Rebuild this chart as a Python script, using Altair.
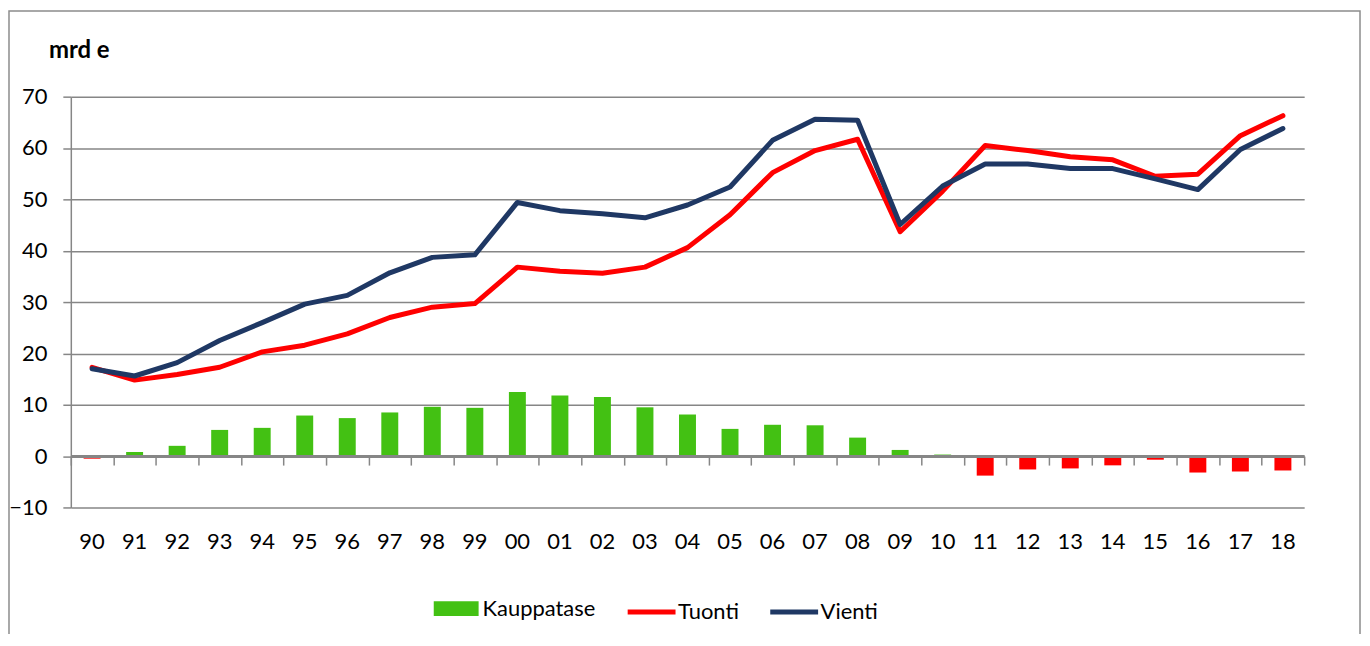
import altair as alt
import pandas as pd

years = ["90", "91", "92", "93", "94", "95", "96", "97", "98", "99",
         "00", "01", "02", "03", "04", "05", "06", "07", "08", "09",
         "10", "11", "12", "13", "14", "15", "16", "17", "18"]
kauppatase = [-0.5, 0.8, 2.0, 5.1, 5.5, 7.9, 7.4, 8.5, 9.6, 9.4,
              12.5, 11.8, 11.5, 9.5, 8.1, 5.3, 6.1, 6.0, 3.6, 1.2,
              0.3, -3.8, -2.6, -2.4, -1.8, -0.7, -3.2, -3.0, -2.8]
tuonti = [17.3, 14.8, 15.9, 17.3, 20.3, 21.6, 23.8, 27.0, 29.0, 29.7,
          36.8, 36.0, 35.6, 36.8, 40.6, 47.0, 55.2, 59.5, 61.7, 43.7,
          51.6, 60.5, 59.5, 58.3, 57.7, 54.5, 54.9, 62.4, 66.3]
vienti = [17.0, 15.6, 18.2, 22.5, 26.0, 29.6, 31.3, 35.7, 38.7, 39.2,
          49.4, 47.8, 47.2, 46.4, 48.9, 52.4, 61.5, 65.6, 65.4, 45.1,
          52.6, 56.9, 56.9, 56.0, 56.0, 54.0, 51.9, 59.7, 63.8]
unit_label = ["mrd e"]

df = pd.DataFrame({"year": years, "kauppatase": kauppatase,
                   "tuonti": tuonti, "vienti": vienti})
df["series"] = "Kauppatase"

FONT = "Lato"
GRID = "#868686"
W, H = 1237, 412

xscale = alt.Scale(paddingInner=0, paddingOuter=0)
yscale = alt.Scale(domain=[-10, 70], nice=False)

yaxis = alt.Axis(values=list(range(-10, 80, 10)), grid=True, gridColor=GRID,
                 gridWidth=1.5, domainColor=GRID, domainWidth=1.5,
                 tickColor=GRID, tickWidth=1.5, tickSize=8, labelFontSize=22,
                 labelFont=FONT, labelColor="black", labelPadding=16, title=None)

base = alt.Chart(df)

bars = base.mark_bar(size=17).encode(
    x=alt.X("year:N", sort=years, scale=xscale,
            axis=alt.Axis(orient="bottom", domain=False, ticks=False,
                          labelAngle=0, labelFontSize=22, labelFont=FONT,
                          labelColor="black", labelPadding=24, title=None,
                          grid=False)),
    y=alt.Y("kauppatase:Q", scale=yscale, axis=yaxis),
    fill=alt.condition(
        "datum.kauppatase < 0",
        alt.value("#FF0000"),
        alt.Fill("series:N",
                 scale=alt.Scale(domain=["Kauppatase"], range=["#43C113"]),
                 legend=alt.Legend(orient="none", legendX=364, legendY=491,
                                   direction="horizontal", title=None,
                                   symbolType="M-1,-0.333H1V0.333H-1Z",
                                   symbolSize=2025, symbolStrokeWidth=0,
                                   symbolOpacity=1,
                                   labelFontSize=22, labelFont=FONT,
                                   labelColor="black", labelOffset=4,
                                   padding=0)),
    ),
)

lines = base.transform_fold(
    ["tuonti", "vienti"], as_=["key", "val"]
).transform_calculate(
    name="datum.key == 'tuonti' ? 'Tuonti' : 'Vienti'"
).mark_line(strokeWidth=5, strokeJoin="round", strokeCap="round").encode(
    x=alt.X("year:N", sort=years, scale=xscale, axis=None),
    y=alt.Y("val:Q", scale=yscale),
    stroke=alt.Stroke("name:N",
                      scale=alt.Scale(domain=["Tuonti", "Vienti"],
                                      range=["#FF0000", "#1F3864"]),
                      legend=alt.Legend(orient="none", legendX=556, legendY=490,
                                        direction="horizontal", title=None,
                                        symbolType="stroke", symbolSize=2304,
                                        symbolStrokeWidth=5, columnPadding=20,
                                        labelFontSize=22, labelFont=FONT,
                                        labelColor="black", labelOffset=0,
                                        padding=0)),
)

zero_axis = base.mark_point(opacity=0).encode(
    x=alt.X("year:N", sort=years, scale=xscale,
            axis=alt.Axis(orient="bottom", offset=-51.5, labels=False,
                          domainColor=GRID, domainWidth=3, tickColor=GRID,
                          tickWidth=1.5, tickSize=9, tickBand="extent",
                          title=None, grid=False, zindex=2)),
    y=alt.Y("kauppatase:Q", scale=yscale),
)

frame = alt.Chart(pd.DataFrame({"a": [0]})).mark_rect(
    fill=None, stroke="#8c8c8c", strokeWidth=1.5
).encode(
    x=alt.value(-62), x2=alt.value(1293),
    y=alt.value(-86), y2=alt.value(700),
)

title = alt.Chart(pd.DataFrame({"t": unit_label})).mark_text(
    align="left", baseline="alphabetic", fontSize=24, fontWeight="bold",
    font=FONT, color="black"
).encode(
    text="t:N", x=alt.value(-22), y=alt.value(-39),
)

chart = alt.layer(frame, bars, lines, zero_axis, title).resolve_scale(
    x="independent", fill="independent", stroke="independent"
).properties(
    width=W, height=H,
    autosize=alt.AutoSizeParams(type="none"),
    padding={"left": 63, "top": 88, "right": 58, "bottom": 126},
).configure_view(stroke=None)

chart.save("out.html", embed_options={"renderer": "svg", "actions": False})
